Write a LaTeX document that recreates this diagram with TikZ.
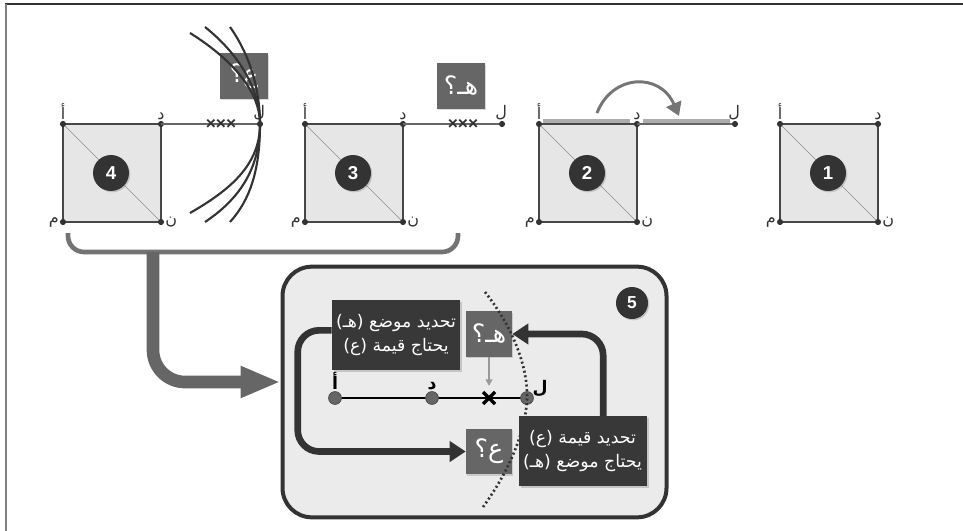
\documentclass[tikz,border=0pt]{standalone}
\usepackage{fontspec}
\setmainfont{Liberation Sans}
\newfontfamily\arabicfont[Script=Arabic]{DejaVu Sans}
\TeXXeTstate=1
\usepackage{tikz}
\usetikzlibrary{positioning,arrows.meta,calc,shadows}
\definecolor{InkDark}{HTML}{333333}
\definecolor{InkMid}{HTML}{666666}
\definecolor{SqFill}{HTML}{E6E6E6}
\definecolor{PanelFill}{HTML}{EBEBEB}
\newcommand{\artext}[1]{{\arabicfont\beginR #1\endR}}

\begin{document}
\begin{tikzpicture}[
  x=0.75pt,y=-0.75pt,
  sqr/.style={draw=InkDark!90,line width=1.3pt,fill=SqFill},
  diag/.style={draw=black!45,line width=0.5pt},
  ext/.style={draw=black!60,line width=0.8pt},
  dotc/.style={fill=InkDark},
  lbl/.style={font=\fontsize{12}{14}\selectfont,text=InkDark,inner sep=1pt},
  num/.style={circle,fill=InkDark,text=white,minimum size=27pt,inner sep=0pt,
              font=\fontsize{14}{16}\selectfont\bfseries,
              drop shadow={opacity=0.35,shadow xshift=1pt,shadow yshift=-1pt}},
  qbox/.style={fill=InkMid,text=white,inner sep=0pt,minimum width=36pt,minimum height=34pt,
               font=\fontsize{19}{20}\selectfont,
               drop shadow={opacity=0.3,shadow xshift=1pt,shadow yshift=-1pt}},
  xxx/.style={font=\fontsize{13}{14}\selectfont\bfseries,text=InkDark,inner sep=0pt},
  curv/.style={draw=InkDark,line width=1.6pt},
  tbox/.style={fill=black!78,text=white,align=center,inner sep=2pt,
               minimum width=96pt,minimum height=52pt,
               font=\fontsize{13}{18}\selectfont,
               drop shadow={opacity=0.35,shadow xshift=1.5pt,shadow yshift=-1.5pt}},
  loopar/.style={draw=InkDark,line width=5pt,rounded corners=16pt,
                 -{Triangle[length=12pt,width=15pt]}},
  bold/.style={font=\fontsize{13}{14}\selectfont\bfseries,text=black,inner sep=1pt},
]
\useasboundingbox (0,0) rectangle (963,531);
\draw[draw=InkDark,line width=1.5pt] (5,4) -- (963,4);
\draw[draw=black!50,line width=1.5pt] (6,4) -- (6,531);

% the four squares
\foreach \sx/\k in {63/4,305/3,539/2,780/1} {
  \coordinate (a\k) at (\sx,124);
  \coordinate (d\k) at (\sx+98,124);
  \coordinate (m\k) at (\sx,222);
  \coordinate (n\k) at (\sx+98,222);
  \draw[sqr] (a\k) rectangle (n\k);
  \draw[diag] (a\k) -- (n\k);
  \foreach \c in {a,d,m,n} \fill[dotc] (\c\k) circle (2.3pt);
  \node[lbl,above=2pt] (la\k) at (a\k) {\artext{أ}};
  \node[lbl,above=2pt] (ld\k) at (d\k) {\artext{د}};
  \node[lbl,left=2pt] (lm\k) at (m\k) {\artext{م}};
  \node[lbl,right=2pt] (ln\k) at (n\k) {\artext{ن}};
  \node[num] (c\k) at (\sx+48,173) {\k};
}

% extension lines
\coordinate (L4) at (260,124);
\coordinate (L3) at (502,124);
\coordinate (L2) at (735,124);
\draw[ext] (d4) -- (L4);
\draw[ext] (d3) -- (L3);
\draw[ext] (d2) -- (L2);
\foreach \p in {L4,L3,L2} \fill[dotc] (\p) circle (2.3pt);
\node[lbl,above left=2pt and -5pt] (ll4) at (L4) {\artext{ل}};
\node[lbl,above left=2pt and -5pt] (ll3) at (L3) {\artext{ل}};
\node[lbl,above left=2pt and -5pt] (ll2) at (L2) {\artext{ل}};
\node[xxx] (x4) at (221,124) {×××};
\node[xxx] (x3) at (463,124) {×××};

% step 2: moving the side
\draw[draw=black!40,line width=3pt,opacity=0.8] (543,121) -- (630,121);
\draw[draw=black!40,line width=3pt,opacity=0.8] (643,121) -- (730,121);
\coordinate (s1) at (597,113);
\coordinate (s2) at (679,116);
\draw[draw=InkMid!90,line width=2.2pt,-{Triangle[length=10pt,width=12pt]}]
  (s1) .. controls (612,74) and (660,72) .. (s2);

% unknown boxes
\node[qbox] (q4) at (244,76) {\artext{ع؟}};
\node[qbox] (q3) at (461,86) {\artext{هـ؟}};

% trial curves through l
\draw[curv] (190,33) .. controls (230,58) and (260,90) .. (L4) .. controls (260,165) and (230,190) .. (190,213);
\draw[curv] (205,27) .. controls (240,55) and (260,90) .. (L4) .. controls (260,170) and (238,200) .. (205,222);
\draw[curv] (230,27) .. controls (250,55) and (260,90) .. (L4) .. controls (260,170) and (250,200) .. (230,222);

% bracket and big arrow
\draw[draw=black!55,line width=3.5pt,rounded corners=12pt] (68,233) -- (68,252) -- (458,252) -- (458,233);
\coordinate (brk) at (153,252);

% panel 5
\node[draw=InkDark,line width=3pt,fill=PanelFill,rounded corners=22pt,
      minimum width=288pt,minimum height=188pt] (panel) at (474.5,392) {};
\draw[draw=InkMid,line width=9.5pt,rounded corners=24pt,
      -{Triangle[length=30pt,width=22pt]}] (brk) |- ([yshift=7.5pt]panel.west);
\node[num,minimum size=24pt,font=\fontsize{13}{15}\selectfont\bfseries] (c5) at (632,303) {5};

\coordinate (pa) at (335,398);
\coordinate (pd) at (432,398);
\coordinate (pl) at (527,398);
\coordinate (px) at (489,398);
\draw[draw=black,line width=2.2pt] (pa) -- (pl);
\foreach \p in {pa,pd,pl} \draw[fill=InkMid,draw=black!70,line width=0.6pt] (\p) circle (4.8pt);
\node[bold,above=5pt] (lpa) at (pa) {\artext{أ}};
\node[bold,above=5pt] (lpd) at (pd) {\artext{د}};
\node[bold,above right=0pt and 3pt] (lpl) at (pl) {\artext{ل}};
\draw[draw=black,line width=2.6pt] ($(px)+(-6,-6)$) -- ($(px)+(6,6)$) ($(px)+(-6,6)$) -- ($(px)+(6,-6)$);

\node[qbox,minimum width=34.5pt] (qh) at (489,334) {\artext{هـ؟}};
\node[qbox,minimum width=34.5pt] (qa) at (489,451.5) {\artext{ع؟}};
\draw[draw=black!40,line width=1.2pt,-{Triangle[length=5pt,width=5pt]}] (qh.south) -- ([yshift=9pt]px);

\draw[draw=InkDark,line width=2pt,dash pattern=on 1.5pt off 2pt]
  (485,292) .. controls (515,330) and (528,370) .. (pl) .. controls (526,430) and (510,470) .. (483,507);

\node[tbox] (bl) at (396,335) {\artext{تحديد موضع (هـ)}\\\artext{يحتاج قيمة (ع)}};
\node[tbox] (br) at (582.5,451) {\artext{تحديد قيمة (ع)}\\\artext{يحتاج موضع (هـ)}};

\draw[loopar] ([yshift=3.5pt]bl.west) -- ++(-34,0) |- (qa.west);
\draw[loopar] ([xshift=15.5pt]br.north) |- (qh.east);
\end{tikzpicture}
\end{document}
